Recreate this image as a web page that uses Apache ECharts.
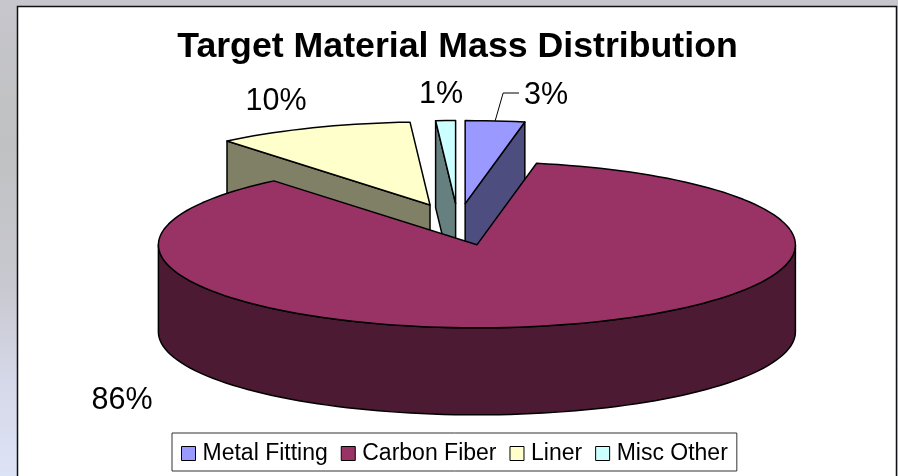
<!DOCTYPE html>
<html>
<head>
<meta charset="utf-8">
<style>html,body{margin:0;padding:0;background:#fff}#chart{width:898px;height:476px}</style>
<script src="https://cdn.jsdelivr.net/npm/echarts@6/dist/echarts.min.js"></script>
</head>
<body>
<div id="chart"></div>
<script>
// Share of target mass by material, in percent
const categories = ['Metal Fitting', 'Carbon Fiber', 'Liner', 'Misc Other'];
const percentages = [3, 86, 10, 1];

// Excel-style palette: top face and darker side wall per material
const faceColors = ['#9999FF', '#993366', '#FFFFCC', '#CCFFFF'];
const wallColors = ['#4D4D80', '#4D1A33', '#808066', '#668080'];

// Anchor of each percent label
const labelAnchors = [[546, 96], [122, 401], [276, 102], [441, 95]];

// Projection of the tilted, exploded pie
const pie = { cx: 458, cy: 224.5, rx: 318.5, ry: 83, depth: 87, explodeX: 76, explodeY: 21 };
const FONT = '"Liberation Sans", Arial, sans-serif';
const EDGE = { stroke: '#000', lineWidth: 1.5, lineJoin: 'round' };

const total = percentages.reduce((a, b) => a + b, 0);
const spans = [];
percentages.reduce((start, v) => {
  const end = start + (v / total) * 360;
  spans.push([start, end]);
  return end;
}, 0);

const rad = d => (d * Math.PI) / 180;

// Points along a rim arc, angles measured clockwise from the top
function arc(apex, from, to, drop) {
  const pts = [];
  const n = Math.max(2, Math.ceil((to - from) / 2));
  for (let i = 0; i <= n; i++) {
    const t = rad(from + ((to - from) * i) / n);
    pts.push([apex[0] + pie.rx * Math.sin(t), apex[1] - pie.ry * Math.cos(t) + drop]);
  }
  return pts;
}

function polygon(points, fill) {
  return { type: 'polygon', shape: { points }, style: Object.assign({ fill }, EDGE) };
}

function sideWall(apex, angle, fill) {
  const rim = arc(apex, angle, angle, 0)[0];
  return polygon([apex, rim, [rim[0], rim[1] + pie.depth], [apex[0], apex[1] + pie.depth]], fill);
}

function renderSlice(index, value) {
  const [a, b] = spans[index];
  const mid = (a + b) / 2;
  const apex = [
    pie.cx + pie.explodeX * Math.sin(rad(mid)),
    pie.cy - pie.explodeY * Math.cos(rad(mid))
  ];
  const children = [];

  // Cut faces turned towards the viewer
  if (Math.sin(rad(a)) < -1e-6) children.push(sideWall(apex, a, wallColors[index]));
  if (Math.sin(rad(b)) > 1e-6) children.push(sideWall(apex, b, wallColors[index]));

  // Curved outer wall, only on the front half
  const f = Math.max(a, 90);
  const t = Math.min(b, 270);
  if (t > f) {
    children.push(polygon(arc(apex, f, t, 0).concat(arc(apex, f, t, pie.depth).reverse()), wallColors[index]));
  }

  // Top face
  children.push(polygon([apex].concat(arc(apex, a, b, 0)), faceColors[index]));

  // Percent label
  const anchor = labelAnchors[index];
  children.push({
    type: 'text',
    z2: 50,
    style: {
      x: anchor[0], y: anchor[1], text: value + '%',
      fill: '#000', font: '30.5px ' + FONT, align: 'center', verticalAlign: 'middle'
    }
  });

  // Leader for the small slice whose label sits off to the side
  if (index === 0) {
    const start = arc(apex, mid, mid, 0)[0];
    children.push({
      type: 'polyline',
      z2: 50,
      shape: { points: [start, [start[0] + 8, anchor[1] - 3], [anchor[0] - 27, anchor[1] - 3]] },
      style: { stroke: '#000', lineWidth: 1, fill: null }
    });
  }
  return { type: 'group', children };
}

const series = categories.map((name, i) => {
  const mid = rad((spans[i][0] + spans[i][1]) / 2);
  return {
    type: 'custom',
    name,
    coordinateSystem: 'none',
    z: 4 - Math.cos(mid),
    silent: true,
    itemStyle: { color: faceColors[i] },
    data: [[percentages[i]]],
    renderItem: (params, api) => renderSlice(i, api.value(0))
  };
});

const chart = echarts.init(document.getElementById('chart'), null, { renderer: 'canvas' });
chart.setOption({
  animation: false,
  backgroundColor: new echarts.graphic.LinearGradient(0, 0, 0, 1, [
    { offset: 0, color: '#c6c6cc' },
    { offset: 0.3, color: '#c0c1c2' },
    { offset: 0.6, color: '#c8c8d0' },
    { offset: 0.8, color: '#d5d8e8' },
    { offset: 1, color: '#dde3f6' }
  ]),
  graphic: [{
    type: 'rect',
    z: 0,
    shape: { x: 17.5, y: 6.5, width: 879, height: 480 },
    style: { fill: '#fff', stroke: '#111', lineWidth: 1.5 }
  }],
  title: {
    text: 'Target Material Mass Distribution',
    left: 452.5,
    top: 24,
    textAlign: 'center',
    textStyle: { fontFamily: FONT, fontWeight: 'bold', fontSize: 35.7, color: '#000' }
  },
  legend: {
    data: categories,
    left: 172,
    top: 433,
    orient: 'horizontal',
    icon: 'rect',
    itemWidth: 14,
    itemHeight: 14,
    itemGap: 13,
    padding: [9, 9, 6, 9],
    backgroundColor: '#fff',
    borderColor: '#333',
    borderWidth: 1,
    borderRadius: 0,
    selectedMode: false,
    itemStyle: { borderColor: '#000', borderWidth: 1 },
    textStyle: { fontFamily: FONT, fontSize: 23, color: '#000', padding: [0, 0, 0, 2] }
  },
  series
});
</script>
</body>
</html>
